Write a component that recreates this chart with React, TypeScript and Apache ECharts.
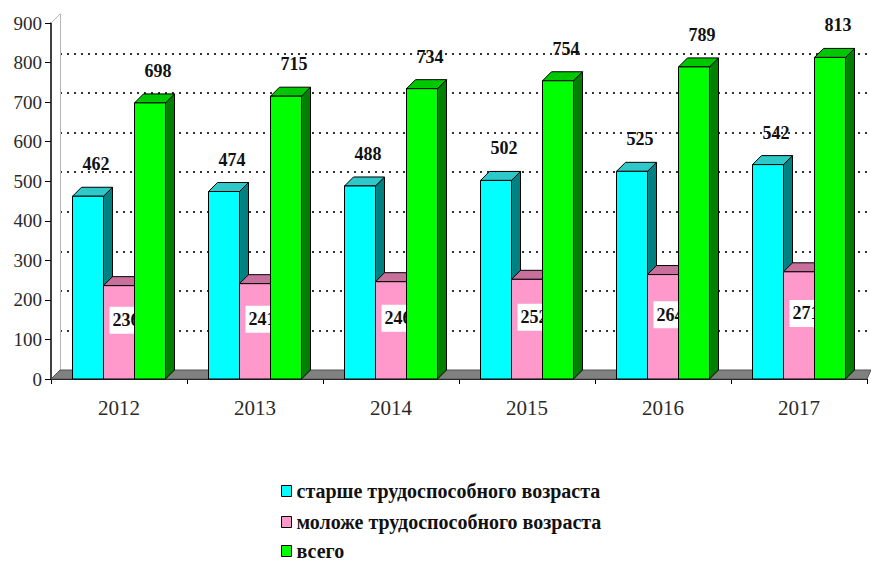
import React, { useEffect, useRef } from "react";
import * as echarts from "echarts";

const years = ["2012", "2013", "2014", "2015", "2016", "2017"];
const olderValues = [462, 474, 488, 502, 525, 542];
const youngerValues = [236, 241, 246, 252, 264, 271];
const totalValues = [698, 715, 734, 754, 789, 813];
const seriesNames = [
  "старше трудоспособного возраста",
  "моложе трудоспособного возраста",
  "всего",
];
const yMin = 0;
const yMax = 900;
const yStep = 100;

const faceColors = [
  { front: "#00FFFF", top: "#2EC8C8", side: "#008080" },
  { front: "#FF99CC", top: "#C8709C", side: "#B05A86" },
  { front: "#00FF00", top: "#00C800", side: "#008000" },
];

const DEPTH = 9;
const SERIF = "Times New Roman, serif";

export default function App() {
  const ref = useRef<HTMLDivElement>(null);
  useEffect(() => {
    document.body.style.margin = "0";
    if (!ref.current) return;
    const chart = echarts.init(ref.current, undefined, { renderer: "svg" });
    const all = [olderValues, youngerValues, totalValues];

    const makeSeries = (sIdx: number) => ({
      type: "custom",
      name: seriesNames[sIdx],
      xAxisIndex: 0,
      yAxisIndex: 0,
      z: 3 + sIdx,
      itemStyle: { color: faceColors[sIdx].front },
      encode: { x: 0, y: 1 },
      data: all[sIdx].map((v, i) => [i, v]),
      renderItem: (params: any, api: any) => {
        const idx = api.value(0);
        const val = api.value(1);
        const base = api.coord([idx, 0]);
        const top = api.coord([idx, val]);
        const band = api.size([1, 0])[0];
        const w = (band * 31) / 136;
        const x0 = base[0] - 1.5 * w + sIdx * w;
        const d = DEPTH;
        const c = faceColors[sIdx];
        const children: any[] = [
          {
            type: "polygon",
            shape: {
              points: [
                [x0 + w, top[1]],
                [x0 + w + d, top[1] - d],
                [x0 + w + d, base[1] - d],
                [x0 + w, base[1]],
              ],
            },
            style: { fill: c.side, stroke: "#000", lineWidth: 1 },
          },
          {
            type: "polygon",
            shape: {
              points: [
                [x0, top[1]],
                [x0 + d, top[1] - d],
                [x0 + w + d, top[1] - d],
                [x0 + w, top[1]],
              ],
            },
            style: { fill: c.top, stroke: "#000", lineWidth: 1 },
          },
          {
            type: "rect",
            shape: { x: x0, y: top[1], width: w, height: base[1] - top[1] },
            style: { fill: c.front, stroke: "#000", lineWidth: 1 },
          },
        ];
        if (sIdx === 1) {
          const mid = api.coord([idx, val / 2]);
          children.push({
            type: "text",
            z2: 50,
            style: {
              text: String(val),
              x: x0 + w / 2 + 7,
              y: mid[1] - 12,
              align: "center",
              verticalAlign: "middle",
              fill: "#111",
              font: `bold 18px ${SERIF}`,
              backgroundColor: "#fff",
              padding: [5, 3, 4, 3],
            },
          });
        } else {
          children.push({
            type: "text",
            z2: 50,
            style: {
              text: String(val),
              x: x0 + w / 2 + 8,
              y: top[1] - 32,
              align: "center",
              verticalAlign: "middle",
              fill: "#111",
              font: `bold 18px ${SERIF}`,
            },
          });
        }
        return { type: "group", children };
      },
    });

    const legendTops = [481, 512, 541];
    const option: any = {
      animation: false,
      backgroundColor: "#fff",
      textStyle: { fontFamily: SERIF },
      grid: [
        { left: 51, right: 4, top: 23, bottom: 183 },
        { left: 60, right: 0, top: 14, bottom: 192 },
      ],
      xAxis: [
        {
          type: "category",
          gridIndex: 0,
          data: years,
          axisLine: { show: true, lineStyle: { color: "#000", width: 1 } },
          axisTick: { show: true, length: 5, lineStyle: { color: "#000" } },
          axisLabel: {
            color: "#2a2a2a",
            fontFamily: SERIF,
            fontSize: 21,
            margin: 18,
          },
        },
        {
          type: "value",
          gridIndex: 1,
          position: "top",
          min: 0,
          max: 1,
          axisLine: { show: true, lineStyle: { color: "#b5b5b5", width: 1 } },
          axisTick: { show: false },
          axisLabel: { show: false },
          splitLine: { show: false },
        },
      ],
      yAxis: [
        {
          type: "value",
          gridIndex: 0,
          min: yMin,
          max: yMax,
          interval: yStep,
          axisLine: { show: true, lineStyle: { color: "#000", width: 1.5 } },
          axisTick: { show: true, length: 6, lineStyle: { color: "#000" } },
          axisLabel: {
            color: "#2a2a2a",
            fontFamily: SERIF,
            fontSize: 19,
            margin: 9,
          },
          splitLine: { show: false },
        },
        {
          type: "value",
          gridIndex: 1,
          min: yMin,
          max: yMax,
          interval: yStep,
          axisLine: { show: true, lineStyle: { color: "#b5b5b5", width: 1 } },
          axisTick: { show: false },
          axisLabel: { show: false },
          splitLine: {
            show: true,
            showMinLine: false,
            showMaxLine: false,
            lineStyle: { color: "#333", width: 2, type: [2, 5] },
          },
        },
      ],
      legend: seriesNames.map((name, i) => ({
        data: [name],
        orient: "vertical",
        left: 281,
        top: legendTops[i],
        padding: 0,
        itemWidth: 10,
        itemHeight: 11,
        itemGap: 4,
        icon: "rect",
        itemStyle: { borderColor: "#000", borderWidth: 1 },
        textStyle: {
          fontFamily: SERIF,
          fontWeight: "bold",
          fontSize: 20,
          color: "#111",
        },
      })),
      graphic: [
        {
          type: "polygon",
          z: 1,
          shape: {
            points: [
              [51, 379],
              [60, 370],
              [871, 370],
              [867, 379],
            ],
          },
          style: { fill: "#808080", stroke: "#555", lineWidth: 1 },
        },
        {
          type: "line",
          z: 1,
          shape: { x1: 51, y1: 23, x2: 60, y2: 14 },
          style: { stroke: "#b5b5b5", lineWidth: 1 },
        },
      ],
      series: [makeSeries(0), makeSeries(1), makeSeries(2)],
    };
    chart.setOption(option);
    return () => chart.dispose();
  }, []);
  return <div ref={ref} style={{ width: 871, height: 562 }} />;
}
